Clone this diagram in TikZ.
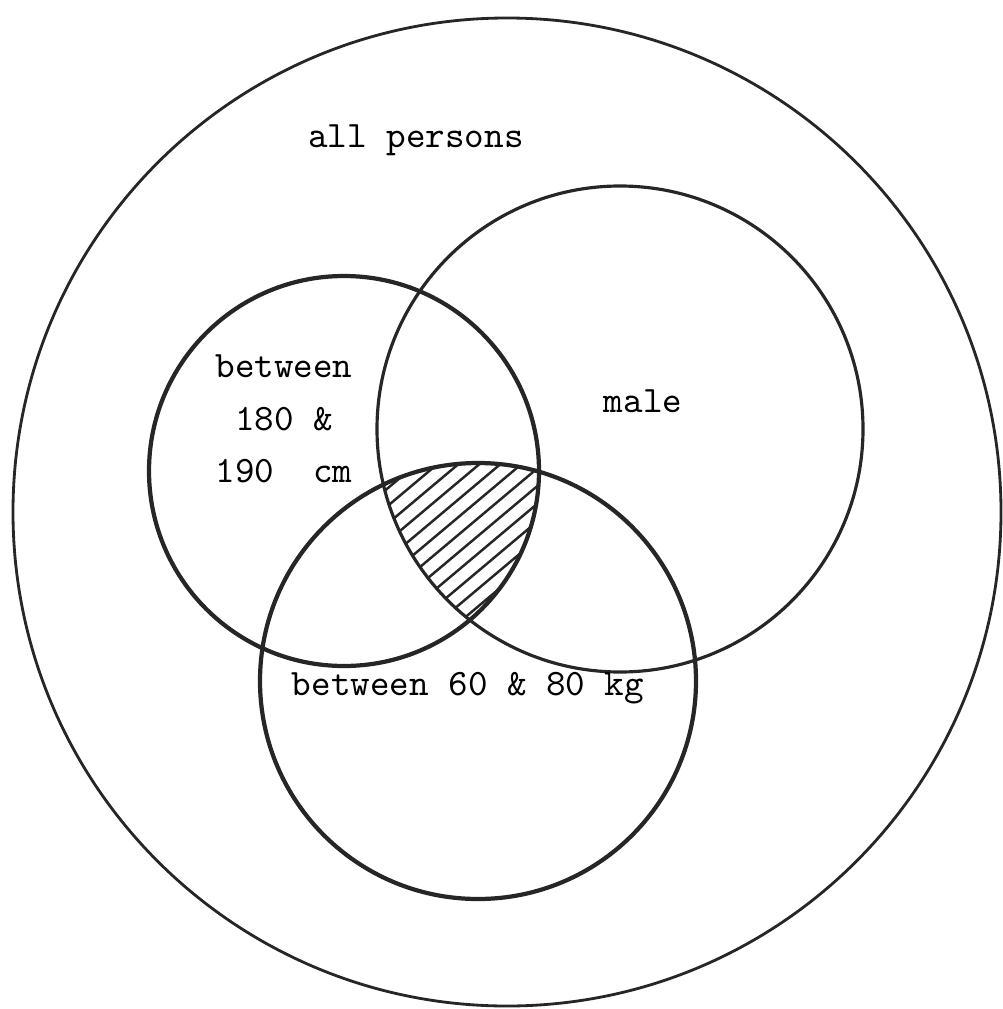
\documentclass[tikz,border=0pt]{standalone}
\usepackage{fontspec}
\tikzset{
    setline/.style={line width=0.9pt, black!85},
    boldline/.style={line width=1.2pt, black!85},
    hatchline/.style={line width=0.7pt, black!85},
    setlabel/.style={font=\ttfamily\fontsize{10.6}{15}\selectfont, align=center}
}
\begin{document}
\begin{tikzpicture}[x=0.01cm, y=-0.01cm]
    \useasboundingbox (0,0) rectangle (1002,1009);

    % Mengen
    \coordinate (all) at (507,512);
    \coordinate (height) at (344,471);
    \coordinate (male) at (620,429);
    \coordinate (weight) at (478,681);

    % Schnittmenge schraffiert
    \begin{scope}
        \clip (height) circle[radius=195];
        \clip (male) circle[radius=243];
        \clip (weight) circle[radius=218];
        \foreach \a in {210,231,...,466}
            \draw[hatchline] (\a,620) -- ++(320,-269);
    \end{scope}

    \draw[setline, line width=0.8pt] (all) circle[radius=494];
    \draw[setline] (male) circle[radius=243];
    \draw[boldline] (height) circle[radius=195];
    \draw[boldline] (weight) circle[radius=218];

    % Beschriftung
    \node[setlabel] (lall) at (416,140) {all persons};
    \node[setlabel, align=left] (lheight) at (284,419) {between\\\ 180 \&\\190\ \ cm};
    \node[setlabel] (lmale) at (643,401) {male};
    \node[setlabel] (lweight) at (468,688) {between 60 \& 80 kg};
\end{tikzpicture}
\end{document}
